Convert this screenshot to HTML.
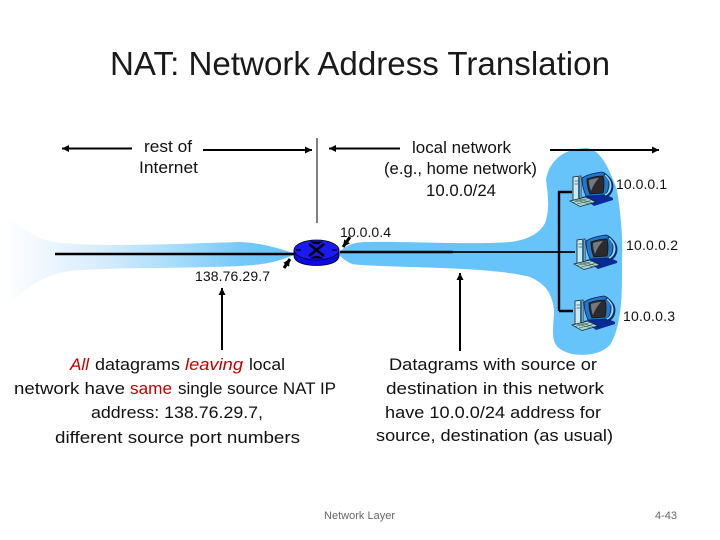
<!DOCTYPE html>
<html><head><meta charset="utf-8"><style>
html,body{margin:0;padding:0;background:#fff}
svg{display:block}
text{font-family:"Liberation Sans",sans-serif;fill:#111}
.t{font-size:17px}.l{font-size:14px}
</style></head><body>
<svg width="720" height="540" viewBox="0 0 720 540" xmlns="http://www.w3.org/2000/svg">
<defs>
<linearGradient id="g" gradientUnits="userSpaceOnUse" x1="5" y1="0" x2="285" y2="0">
<stop offset="0" stop-color="#fff"/><stop offset=".1" stop-color="#f3f9ff"/><stop offset=".35" stop-color="#d6ecfc"/><stop offset=".6" stop-color="#aadcfb"/><stop offset=".85" stop-color="#75c8fa"/><stop offset="1" stop-color="#66c4fb"/>
</linearGradient>
<symbol id="pc" width="46" height="40" viewBox="-3 0 46 40" overflow="visible">
<path d="M10 26L30 22L41 27L41 29L22 35Z" fill="#0a2a9a"/>
<path d="M1 6L9 5V29H1Z" fill="#cfe8e8" stroke="#123" stroke-width=".8"/>
<path d="M7 6V28" stroke="#2a6f9c" stroke-width="2"/>
<path d="M2.500 10H6M2.500 13H6" stroke="#456" stroke-width=".8"/>
<path d="M10 7Q16 3 30 1Q37 3 37 12Q37 20 33 24L14 25Q10 16 10 7Z" fill="#1f78c8" stroke="#0a1f60" stroke-width=".8"/>
<path d="M32 3Q41 9 40 17Q39 24 32 26" fill="none" stroke="#0a2a70" stroke-width="2.600"/>
<path d="M33 4Q40 10 38.500 17Q37.500 22 33 24" fill="none" stroke="#a8dcea" stroke-width="1.400"/>
<path d="M15 8Q23 5 31 5Q33 13 31 22L18 23Q15 16 15 8Z" fill="#2b2b2f" stroke="#111" stroke-width=".8"/>
<path d="M17 9Q23 7 27 7Q22 12 19 20Q17 15 17 9Z" fill="#77787c"/>
<path d="M-2 30L14 26L24 31L8 35.500Z" fill="#a9d8c6" stroke="#123" stroke-width=".7"/>
<path d="M3 29L18 33M7 28L21 32M1 31.500L16 27.500M5 33L19 29.500" stroke="#345" stroke-width=".5"/>
</symbol>
<marker id="ah" markerUnits="userSpaceOnUse" markerWidth="9" markerHeight="9" refX="7" refY="4" orient="auto-start-reverse"><path d="M0 0.500L7 4L0 7.500Z" fill="#000"/></marker>
</defs>

<text x="110" y="75" font-size="33" textLength="500" lengthAdjust="spacingAndGlyphs" style="fill:#1a1a1a">NAT: Network Address Translation</text>

<path d="M5 216C25 228 35 240 60 243C110 247 170 244 240 242C262 243 278 248 296 254C280 261 265 265 240 266C170 269 110 267 70 271C40 275 25 290 7 308Z" fill="url(#g)"/>
<path d="M338 253C345 247 350 242 368 242C400 241 470 245 510 242C528 240 540 233 545 223C550 210 548 195 546 180C548 165 560 148 587 148C600 150 608 165 617 190C621 215 623 240 622 260C622 285 622 300 620 313C618 325 616 335 610 345C600 355 585 356 572 354C558 350 553 345 553 332C553 320 555 312 553 304C550 290 543 283 530 277C505 270 450 268 410 267C390 266 365 266 352 264C346 261 341 258 338 253Z" fill="#66c4fb"/>

<g stroke="#000" fill="none">
<path d="M55 254H295M340 252H453" stroke-width="2.600"/>
<path d="M453 252H575" stroke-width="1.800"/>
<path d="M559 311V192H572M559 311H573" stroke-width="2.400"/>
<path d="M317 138V223" stroke-width="1"/>
<path d="M132 148.500H62" stroke-width="2" marker-end="url(#ah)"/>
<path d="M203 150H312" stroke-width="2" marker-end="url(#ah)"/>
<path d="M400 148.500H329" stroke-width="2" marker-end="url(#ah)"/>
<path d="M550 150H659" stroke-width="2" marker-end="url(#ah)"/>
<path d="M222 350V288" stroke-width="2" marker-end="url(#ah)"/>
<path d="M460 351V273" stroke-width="2" marker-end="url(#ah)"/>
<path d="M284 268L290 259" stroke-width="3" marker-end="url(#ah)"/>
<path d="M350 237L343 247" stroke-width="3" marker-end="url(#ah)"/>
</g>

<path d="M294 250V256C294 262 304 265.500 316.500 265.500C329 265.500 339 262 339 256V250Z" fill="#0a0ae6" stroke="#000" stroke-width=".8"/>
<ellipse cx="316.500" cy="250" rx="22.500" ry="10" fill="#1a1af5" stroke="#000" stroke-width=".8"/>
<path d="M309 244L324 256M324 244L309 256" stroke="#000" stroke-width="2.500"/>
<path d="M310 241.500Q316.500 247 323 241.500ZM310 258.500Q316.500 253 323 258.500Z" fill="#000"/>
<path d="M296 250H301M332 250H337" stroke="#000" stroke-width="1.200"/>

<use href="#pc" x="569" y="171"/>
<use href="#pc" x="573" y="234"/>
<use href="#pc" x="571" y="295"/>

<text class="t" x="144" y="152" textLength="48" lengthAdjust="spacingAndGlyphs">rest of</text>
<text class="t" x="139" y="173" textLength="59" lengthAdjust="spacingAndGlyphs">Internet</text>
<text class="t" x="412" y="153" textLength="99" lengthAdjust="spacingAndGlyphs">local network</text>
<text class="t" x="384" y="174" textLength="153" lengthAdjust="spacingAndGlyphs">(e.g., home network)</text>
<text class="t" x="426" y="196" textLength="70" lengthAdjust="spacingAndGlyphs">10.0.0/24</text>

<text class="l" x="616" y="189" textLength="51">10.0.0.1</text>
<text class="l" x="626" y="250" textLength="52">10.0.0.2</text>
<text class="l" x="623" y="321" textLength="52">10.0.0.3</text>
<text class="l" x="340" y="237" textLength="51">10.0.0.4</text>
<text class="l" x="195" y="281" textLength="75">138.76.29.7</text>

<text class="t" x="70" y="370" textLength="19" lengthAdjust="spacingAndGlyphs" font-style="italic" style="fill:#c00000">All</text>
<text class="t" x="95" y="370" textLength="85" lengthAdjust="spacingAndGlyphs">datagrams</text>
<text class="t" x="185" y="370" textLength="58" lengthAdjust="spacingAndGlyphs" font-style="italic" style="fill:#c00000">leaving</text>
<text class="t" x="249" y="370" textLength="36" lengthAdjust="spacingAndGlyphs">local</text>
<text class="t" x="14" y="394" textLength="111" lengthAdjust="spacingAndGlyphs">network have</text>
<text class="t" x="130" y="394" textLength="42" lengthAdjust="spacingAndGlyphs" style="fill:#c00000">same</text>
<text class="t" x="178" y="394" textLength="158" lengthAdjust="spacingAndGlyphs">single source NAT IP</text>
<text class="t" x="91" y="418" textLength="172" lengthAdjust="spacingAndGlyphs">address: 138.76.29.7,</text>
<text class="t" x="55" y="443" textLength="245" lengthAdjust="spacingAndGlyphs">different source port numbers</text>

<text class="t" x="389" y="370" textLength="208" lengthAdjust="spacingAndGlyphs">Datagrams with source or</text>
<text class="t" x="386" y="394" textLength="218" lengthAdjust="spacingAndGlyphs">destination in this network</text>
<text class="t" x="385" y="418" textLength="216" lengthAdjust="spacingAndGlyphs">have 10.0.0/24 address for</text>
<text class="t" x="376" y="441" textLength="237" lengthAdjust="spacingAndGlyphs">source, destination (as usual)</text>

<text x="324" y="519" font-size="11" textLength="71" lengthAdjust="spacingAndGlyphs" style="fill:#666">Network Layer</text>
<text x="655" y="519" font-size="11" textLength="22" lengthAdjust="spacingAndGlyphs" style="fill:#666">4-43</text>
</svg>
</body></html>
